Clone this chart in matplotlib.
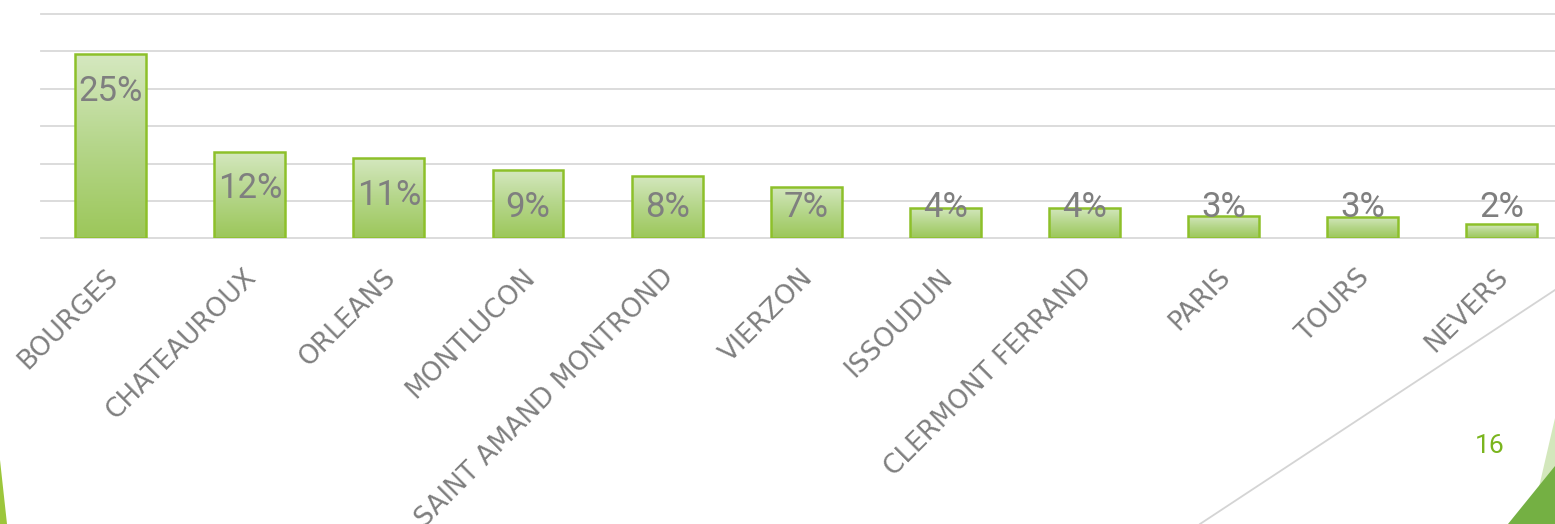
import numpy as np
import matplotlib
matplotlib.use("Agg")
import matplotlib.pyplot as plt
import matplotlib.transforms as transforms
from matplotlib.patches import Polygon
from matplotlib.lines import Line2D
from matplotlib.colors import LinearSegmentedColormap

# ── Données ───────────────────────────────────────────────────────────────────
villes = ["BOURGES", "CHATEAUROUX", "ORLEANS", "MONTLUCON", "SAINT AMAND MONTROND",
          "VIERZON", "ISSOUDUN", "CLERMONT FERRAND", "PARIS", "TOURS", "NEVERS"]
parts = [24.6, 11.6, 10.7, 9.1, 8.3, 6.9, 4.1, 4.1, 3.0, 2.85, 1.85]
y_ticks = [0, 5, 10, 15, 20, 25, 30]
page_num = "16"

# ── Style ─────────────────────────────────────────────────────────────────────
W, H, DPI = 1555, 524, 100
GRID_COL = "#D9D9D9"
EDGE_COL = "#8DC02A"
TXT_COL = "#7F7F7F"
PCT_FONT = "Roboto"
grad = LinearSegmentedColormap.from_list("vert", ["#9CC75A", "#B5D68A", "#D5E8C0"])

fig = plt.figure(figsize=(W / DPI, H / DPI), dpi=DPI)
fig.patch.set_facecolor("white")

def px(x, y):
    return (x / W, 1 - y / H)

# axe : base à y=238 px, haut à y=14 px, catégories espacées de 139 px
ax = fig.add_axes([41.1 / W, (H - 238.3) / H, 1530.2 / W, 224.3 / H])

for t in y_ticks:
    ax.axhline(t, color=GRID_COL, linewidth=1.3, zorder=0, clip_on=False)

x = np.arange(len(villes))
bars = ax.bar(x, parts, width=0.51, facecolor="none", edgecolor=EDGE_COL,
              linewidth=1.8, zorder=3)

# dégradé dans chaque barre
gradient = np.linspace(0, 1, 256).reshape(-1, 1)
for b in bars:
    x0, w, h = b.get_x(), b.get_width(), b.get_height()
    im = ax.imshow(gradient, cmap=grad, aspect="auto", origin="lower",
                   extent=[x0, x0 + w, 0, h], zorder=2)
    im.set_clip_path(b)
ax.set_xlim(-0.5, len(villes) - 0.5)
ax.set_ylim(0, 30)

# étiquettes de valeurs (à l'intérieur, sous le haut de la barre)
off = 4.55
for xi, v in zip(x, parts):
    yc = max(v - off, off)
    ax.annotate(f"{round(v)}%", xy=(xi, yc), xytext=(0, -9.0),
                textcoords="offset points", ha="center", va="baseline",
                fontsize=25, color=TXT_COL, family=PCT_FONT, zorder=5)

for s in ax.spines.values():
    s.set_visible(False)
ax.set_yticks([])
ax.set_xticks(x)
ax.set_xticklabels(villes, rotation=45, ha="right", va="top",
                   rotation_mode="anchor", fontsize=19, color=TXT_COL,
                   family="DejaVu Sans")
ax.tick_params(axis="x", length=0, pad=18.5)
shift = transforms.ScaledTranslation(-6 / DPI, 0, fig.dpi_scale_trans)
for lab in ax.get_xticklabels():
    lab.set_transform(lab.get_transform() + shift)

# ── Décor de la diapositive ───────────────────────────────────────────────────
fig.lines.append(Line2D([px(1200, 524)[0], px(1555, 290)[0]],
                        [px(1200, 524)[1], px(1555, 290)[1]],
                        transform=fig.transFigure, color="#D4D4D4", linewidth=1.3))
fig.patches.append(Polygon([px(1536, 500), px(1555, 418), px(1555, 500)],
                           closed=True, transform=fig.transFigure,
                           facecolor="#D3E7BC", edgecolor="none"))
fig.patches.append(Polygon([px(1508, 524), px(1555, 466), px(1555, 524)],
                           closed=True, transform=fig.transFigure,
                           facecolor="#74B043", edgecolor="none"))
fig.patches.append(Polygon([px(0, 460), px(7, 524), px(0, 524)],
                           closed=True, transform=fig.transFigure,
                           facecolor="#9CC63B", edgecolor="none"))
fig.text(*px(1490, 446), page_num, ha="center", va="center", fontsize=19,
         color="#7AB51E", family=PCT_FONT)

fig.savefig("out.png", dpi=DPI)
